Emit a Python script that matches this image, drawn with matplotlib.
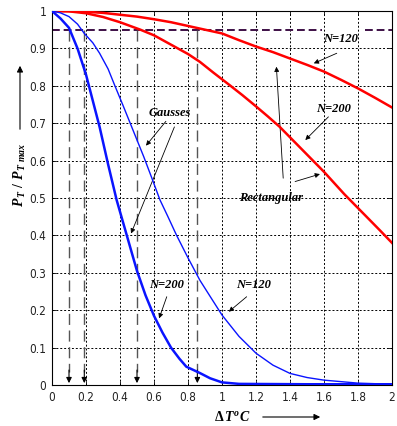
import matplotlib
matplotlib.use("Agg")
import matplotlib.pyplot as plt
import matplotlib.patches as mpatches

plt.rcParams["mathtext.fontset"] = "custom"
plt.rcParams["mathtext.rm"] = "Liberation Serif:bold"
plt.rcParams["mathtext.it"] = "Liberation Serif:italic:bold"
plt.rcParams["mathtext.bf"] = "Liberation Serif:italic:bold"

# ---- data ----
rect120_x = [0, 0.1, 0.2, 0.3, 0.4, 0.5, 0.6, 0.7, 0.85, 1.0, 1.1, 1.2, 1.3, 1.4, 1.5, 1.6, 1.7, 1.8, 1.9, 2.0]
rect120_y = [1.0, 1.0, 0.998, 0.995, 0.99, 0.985, 0.978, 0.97, 0.955, 0.94, 0.922, 0.905, 0.89, 0.873,
             0.856, 0.838, 0.816, 0.793, 0.768, 0.742]

rect200_x = [0, 0.1, 0.2, 0.3, 0.4, 0.52, 0.6, 0.7, 0.8, 0.87, 0.95, 1.05, 1.12, 1.2, 1.27, 1.34,
             1.47, 1.6, 1.72, 1.85, 1.93, 2.0]
rect200_y = [1.0, 0.999, 0.994, 0.984, 0.97, 0.95, 0.935, 0.91, 0.885, 0.864, 0.835, 0.80, 0.775,
             0.745, 0.718, 0.69, 0.63, 0.57, 0.51, 0.45, 0.413, 0.38]

gauss200_x = [0, 0.05, 0.1, 0.15, 0.2, 0.24, 0.28, 0.33, 0.38, 0.44, 0.5, 0.55, 0.6, 0.65, 0.7,
              0.75, 0.79, 0.87, 0.93, 1.0, 1.1, 1.5, 2.0]
gauss200_y = [1.0, 0.98, 0.955, 0.90, 0.83, 0.76, 0.69, 0.59, 0.495, 0.40, 0.305, 0.24, 0.185,
              0.14, 0.10, 0.07, 0.049, 0.032, 0.018, 0.007, 0.003, 0.002, 0.002]

gauss120_x = [0, 0.05, 0.1, 0.15, 0.19, 0.24, 0.28, 0.33, 0.37, 0.42, 0.46, 0.5, 0.54, 0.59, 0.635,
              0.68, 0.733, 0.8, 0.87, 0.93, 1.0, 1.1, 1.2, 1.3, 1.4, 1.5, 1.6, 1.8, 2.0]
gauss120_y = [1.0, 0.995, 0.985, 0.965, 0.94, 0.915, 0.887, 0.845, 0.80, 0.745, 0.70, 0.655, 0.61,
              0.55, 0.495, 0.452, 0.40, 0.34, 0.28, 0.237, 0.187, 0.13, 0.085, 0.053, 0.031, 0.02,
              0.013, 0.005, 0.002]

level = 0.95
marker_x = [0.1, 0.19, 0.5, 0.855]

x_ticks = [0, 0.2, 0.4, 0.6, 0.8, 1, 1.2, 1.4, 1.6, 1.8, 2]
x_tick_labels = ["0", "0.2", "0.4", "0.6", "0.8", "1", "1.2", "1.4", "1.6", "1.8", "2"]
y_ticks = [0, 0.1, 0.2, 0.3, 0.4, 0.5, 0.6, 0.7, 0.8, 0.9, 1]
y_tick_labels = ["0", "0.1", "0.2", "0.3", "0.4", "0.5", "0.6", "0.7", "0.8", "0.9", "1"]

fig = plt.figure(figsize=(3.97, 4.26), dpi=100)
ax = fig.add_axes([52/397, 1-385/426, 340/397, 374/426])
ax.set_xlim(0, 2)
ax.set_ylim(0, 1)

ax.set_xticks(x_ticks)
ax.set_xticklabels(x_tick_labels)
ax.set_yticks(y_ticks)
ax.set_yticklabels(y_tick_labels)
for lab in ax.get_xticklabels() + ax.get_yticklabels():
    lab.set_fontfamily("DejaVu Sans")
    lab.set_fontstretch("condensed")
    lab.set_fontsize(8.5)
    lab.set_color("#222222")
ax.tick_params(direction="in", length=3, width=0.6, pad=4, top=True, right=True)

ax.grid(True, color="black", linestyle=(0, (2, 2)), linewidth=0.7)
ax.set_axisbelow(True)
for s in ax.spines.values():
    s.set_linewidth(0.8)

# level line (two segments, gap where label sits)
ax.plot([0, 1.59], [level, level], color="#3d0f45", linestyle=(0, (4, 2)), linewidth=1.4, zorder=2)
ax.plot([1.84, 2.0], [level, level], color="#3d0f45", linestyle=(0, (4, 2)), linewidth=1.4, zorder=2)

# vertical marker lines with arrows
for mx in marker_x:
    ax.plot([mx, mx], [level, 0.035], color="#555555", linestyle=(0, (8, 4)), linewidth=1.0, zorder=2)
    ax.annotate("", xy=(mx, 0.005), xytext=(mx, 0.04),
                arrowprops=dict(arrowstyle="-|>", color="black", lw=0.8,
                                mutation_scale=8, shrinkA=0, shrinkB=0), zorder=3)

# curves
ax.plot(rect120_x, rect120_y, color="#ff0000", linewidth=1.8, zorder=4)
ax.plot(rect200_x, rect200_y, color="#ff0000", linewidth=1.8, zorder=4)
ax.plot(gauss200_x, gauss200_y, color="#0a14ff", linewidth=1.8, zorder=4)
ax.plot(gauss120_x, gauss120_y, color="#0a14ff", linewidth=1.0, zorder=4)

txt = dict(fontfamily="Liberation Serif", fontstyle="italic", fontweight="bold",
           fontsize=9, ha="center", va="center", color="black", zorder=5)
arr = dict(arrowstyle="-|>", color="black", lw=0.6, mutation_scale=7, shrinkA=0, shrinkB=0)

ax.text(0.69, 0.726, "Gausses", **txt)
ax.annotate("", xy=(0.553, 0.64), xytext=(0.67, 0.705), arrowprops=arr)
ax.annotate("", xy=(0.465, 0.405), xytext=(0.72, 0.69), arrowprops=arr)

ax.text(1.29, 0.50, "Rectangular", **txt)
ax.annotate("", xy=(1.32, 0.851), xytext=(1.36, 0.553), arrowprops=arr)
ax.annotate("", xy=(1.576, 0.564), xytext=(1.43, 0.544), arrowprops=arr)

ax.text(1.655, 0.737, "N=200", **txt)
ax.annotate("", xy=(1.49, 0.655), xytext=(1.626, 0.717), arrowprops=arr)

ax.text(1.70, 0.924, "N=120", **txt)
ax.annotate("", xy=(1.54, 0.86), xytext=(1.675, 0.887), arrowprops=arr)

ax.text(0.675, 0.267, "N=200", **txt)
ax.annotate("", xy=(0.63, 0.178), xytext=(0.675, 0.236), arrowprops=arr)

ax.text(1.185, 0.267, "N=120", **txt)
ax.annotate("", xy=(1.04, 0.196), xytext=(1.145, 0.236), arrowprops=arr)

# axis labels with arrows (figure coordinates)
fig.text(20/397, 1-175/426, r"$P_{\,T}\ /\ P_{\,T\ max}$", rotation=90,
         ha="center", va="center", fontsize=10, color="black")
fig.add_artist(mpatches.FancyArrowPatch((20/397, 1-132/426), (20/397, 1-63/426),
               transform=fig.transFigure, arrowstyle="-|>", mutation_scale=9, lw=0.8, color="black"))

fig.text(232/397, 1-417/426, r"$\Delta\, T^{o}C$", ha="center", va="center",
         fontsize=10, color="black")
fig.add_artist(mpatches.FancyArrowPatch((260/397, 1-417/426), (323/397, 1-417/426),
               transform=fig.transFigure, arrowstyle="-|>", mutation_scale=9, lw=0.8, color="black"))

fig.savefig("out.png", dpi=100, facecolor="white")
